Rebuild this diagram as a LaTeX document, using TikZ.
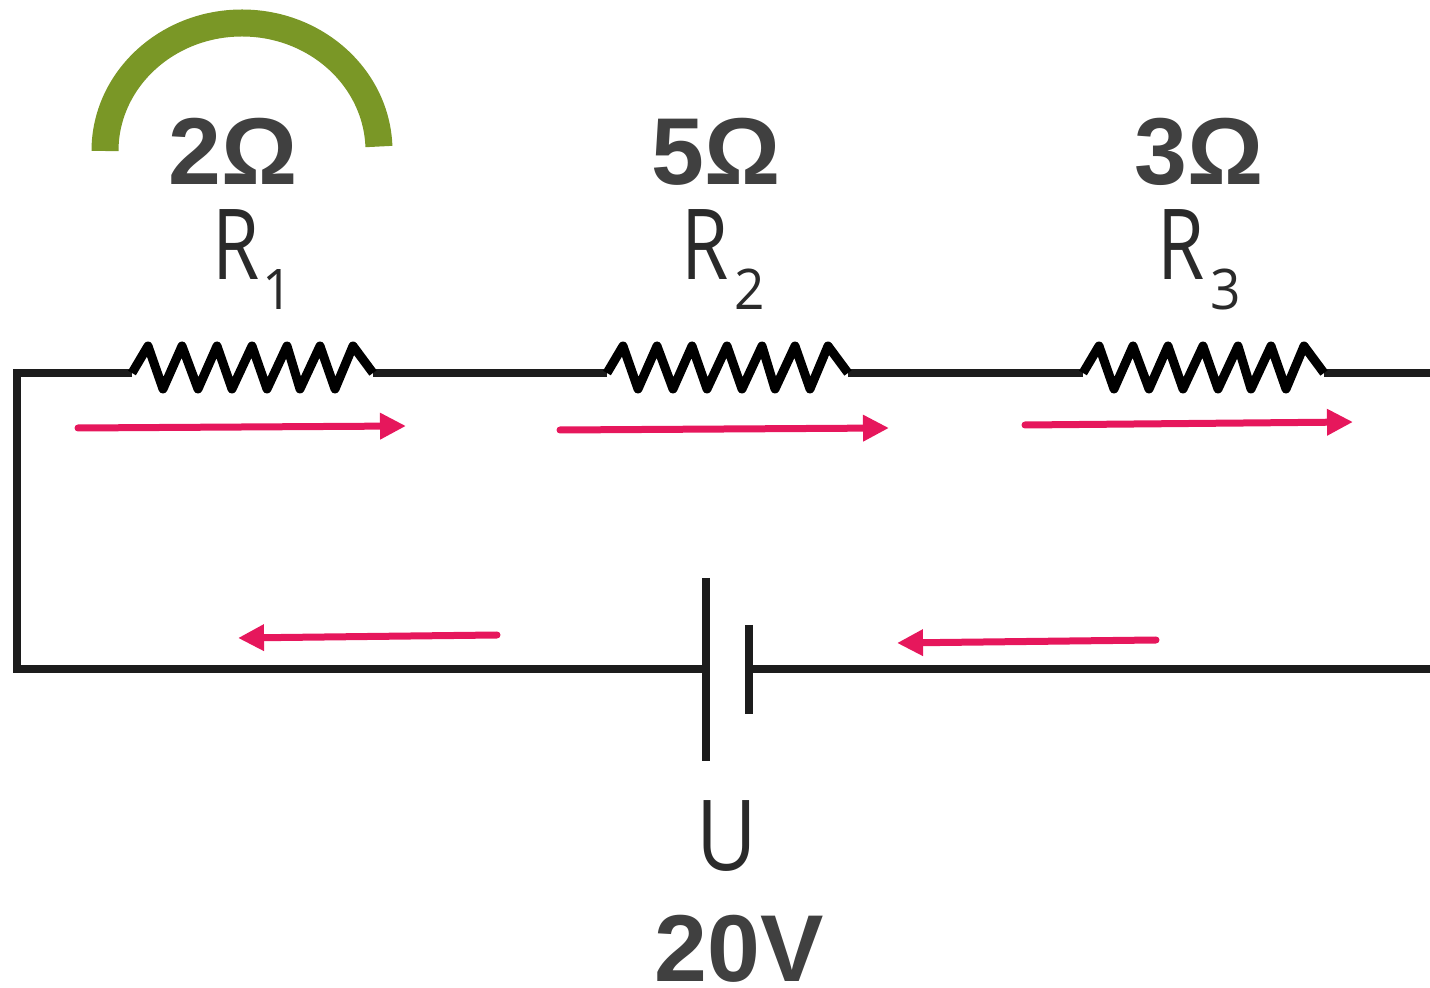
\documentclass[tikz,border=0pt]{standalone}
\usepackage{fontspec}
\setmainfont{Liberation Sans}
\newfontfamily\symfont{Open Sans}
\usetikzlibrary{arrows.meta}
\definecolor{wirecol}{HTML}{1C1C1C}
\definecolor{valcol}{HTML}{404040}
\definecolor{symcol}{HTML}{2A2A2A}
\definecolor{flowcol}{HTML}{E6175C}
\definecolor{arccol}{HTML}{7A9726}
\newcommand{\symtxt}[3]{\symfont\fontsize{49pt}{49pt}\selectfont\scalebox{.78}[1]{#1}\kern#3\raisebox{-15pt}{\fontsize{28pt}{28pt}\selectfont\scalebox{.95}[1]{#2}}}
\tikzset{
  x=0.5pt,y=-0.5pt,
  wire/.style={draw=wirecol,line width=4pt,line join=miter},
  plate/.style={draw=wirecol,line width=4pt},
  zigzag/.style={draw=black,line width=4.5pt,line join=round},
  flow/.style={draw=flowcol,line width=3.5pt,line cap=round,-{Triangle[length=13pt,width=12.5pt]}},
  valuelabel/.style={inner sep=0pt,anchor=base,text=valcol,font=\bfseries\fontsize{47.5pt}{47.5pt}\selectfont},
  symlabel/.style={inner sep=0pt,anchor=base west,text=symcol},
  resistor/.pic={
    \draw[zigzag] (0,0) -- (16,-27) -- (31,16) -- (50,-27) -- (66,16) -- (85,-27)
      -- (100,16) -- (120,-27) -- (135,16) -- (155,-27) -- (168,16) -- (188,-27)
      -- (203,16) -- (221,-27) -- (241,0);
  }
}
\begin{document}
\begin{tikzpicture}
\useasboundingbox (0,0) rectangle (1430,988);
% named circuit points
\coordinate (tl) at (17,373);
\coordinate (bl) at (17,669);
\coordinate (r1a) at (132,373);
\coordinate (r1b) at (373,373);
\coordinate (r2a) at (607,373);
\coordinate (r2b) at (848,373);
\coordinate (r3a) at (1083,373);
\coordinate (r3b) at (1324,373);
\coordinate (tr) at (1430,373);
\coordinate (br) at (1430,669);
\coordinate (batl) at (706,669);
\coordinate (batr) at (749,669);
\coordinate (batlt) at (706,578);
\coordinate (batlb) at (706,761);
\coordinate (batrt) at (749,625);
\coordinate (batrb) at (749,714);
% arc
\draw[arccol,line width=13.5pt] (105,151) arc[start angle=180,end angle=358,x radius=137,y radius=128];
% wires
\draw[wire] (r1a) -- (tl) -- (bl) -- (batl);
\draw[wire] (r1b) -- (r2a);
\draw[wire] (r2b) -- (r3a);
\draw[wire] (r3b) -- (tr);
\draw[wire] (batr) -- (br);
\pic at (r1a) {resistor};
\pic at (r2a) {resistor};
\pic at (r3a) {resistor};
% battery
\draw[plate] (batlt) -- (batlb);
\draw[plate] (batrt) -- (batrb);
% current arrows
\coordinate (f1a) at (78,428);   \coordinate (f1b) at (406,426);
\coordinate (f2a) at (560,430);  \coordinate (f2b) at (889,428);
\coordinate (f3a) at (1025,425); \coordinate (f3b) at (1353,422);
\coordinate (f4a) at (497,635);  \coordinate (f4b) at (238,638);
\coordinate (f5a) at (1156,640); \coordinate (f5b) at (897,643);
\draw[flow] (f1a) -- (f1b);
\draw[flow] (f2a) -- (f2b);
\draw[flow] (f3a) -- (f3b);
\draw[flow] (f4a) -- (f4b);
\draw[flow] (f5a) -- (f5b);
% labels
\node[valuelabel] (v1) at (233,185) {2Ω};
\node[valuelabel] (v2) at (716,185) {5Ω};
\node[valuelabel] (v3) at (1199,185) {3Ω};
\node[valuelabel] (v4) at (739,981) {20V};
\node[symlabel] (s1) at (212,280) {\symtxt{R}{1}{1.5pt}};
\node[symlabel] (s2) at (681,280) {\symtxt{R}{2}{3pt}};
\node[symlabel] (s3) at (1157,280) {\symtxt{R}{3}{3pt}};
\node[symlabel] (s4) at (696,870) {\symfont\fontsize{49pt}{49pt}\selectfont\scalebox{.85}[1]{U}};
\end{tikzpicture}
\end{document}
